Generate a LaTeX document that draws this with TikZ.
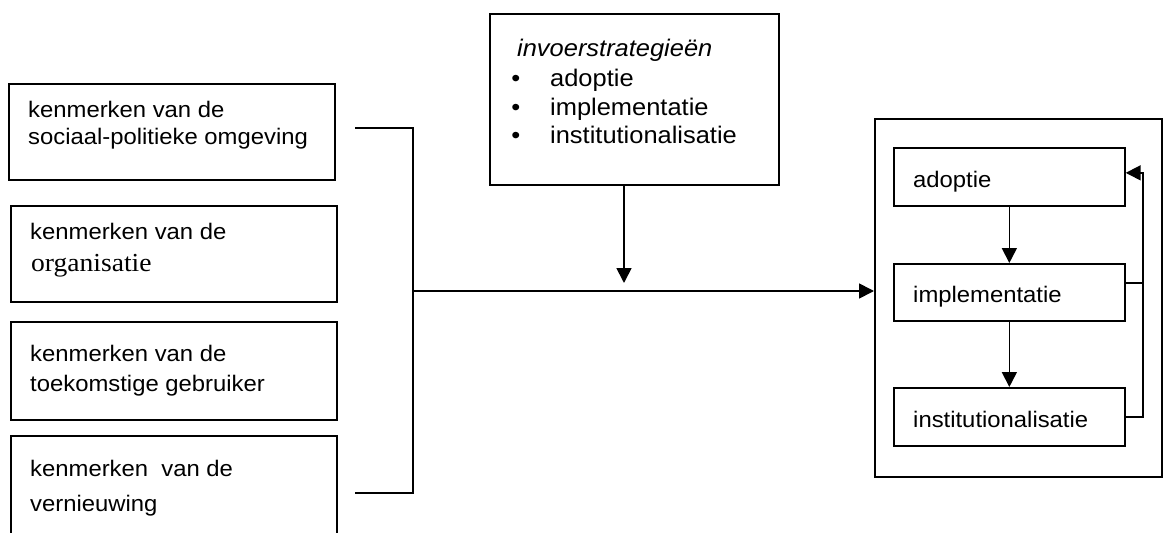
\documentclass[tikz,border=0pt]{standalone}
\usepackage{fontspec}
\setmainfont{Liberation Sans}[FakeStretch=1.06]
\newfontfamily\serifnl{Liberation Serif}[FakeStretch=1.06]
\usetikzlibrary{arrows.meta}
\begin{document}
\begin{tikzpicture}[x=1pt,y=-1pt,
  box/.style={draw, line width=1.7pt, inner sep=0pt, anchor=north west},
  txt/.style={anchor=base west, inner sep=0pt, font=\fontsize{22.5}{26}\selectfont},
  bigtxt/.style={anchor=base west, inner sep=0pt, font=\fontsize{24}{28}\selectfont},
  bul/.style={anchor=base, inner sep=0pt, font=\fontsize{24}{28}\selectfont},
  conn/.style={line width=1.7pt},
  arr/.style={conn, -{Triangle[width=15pt,length=15pt]}}]
\useasboundingbox (0,0) rectangle (1163,533);
\clip (0,0) rectangle (1163,533);
% left boxes
\node[box, minimum width=326pt, minimum height=96pt] (k1) at (8,83) {};
\node[box, minimum width=326pt, minimum height=96pt] (k2) at (10,205) {};
\node[box, minimum width=326pt, minimum height=98pt] (k3) at (10,321) {};
\node[box, minimum width=326pt, minimum height=130pt] (k4) at (10,435) {};
\node[txt] (k1a) at (28,117) {kenmerken van de};
\node[txt] (k1b) at (28,144) {sociaal-politieke omgeving};
\node[txt] (k2a) at (30,239) {kenmerken van de};
\node[txt, font=\serifnl\fontsize{26}{28}\selectfont] (k2b) at (31,271) {organisatie};
\node[txt] (k3a) at (30,361.5) {kenmerken van de};
\node[txt] (k3b) at (30,391) {toekomstige gebruiker};
\node[txt] (k4a) at (30,476) {kenmerken\ \ van de};
\node[txt] (k4b) at (30,511) {vernieuwing};
% bracket
\coordinate (bt) at (355,128);
\coordinate (bb) at (355,493);
\coordinate (bj) at (413,291);
\draw[conn] (bt) -- (bt -| bj) -- (bb -| bj) -- (bb);
% strategy box
\node[box, minimum width=289pt, minimum height=171pt] (strat) at (489,13) {};
\node[bigtxt, font=\itshape\fontsize{24}{28}\selectfont] (s0) at (517,56) {invoerstrategieën};
\node[bul] (b1) at (515.7,86) {•};
\node[bul] (b2) at (515.7,115) {•};
\node[bul] (b3) at (515.7,143) {•};
\node[bigtxt] (s1) at (550,86) {adoptie};
\node[bigtxt] (s2) at (550,115) {implementatie};
\node[bigtxt] (s3) at (550,143) {institutionalisatie};
% right outer box and phases
\node[box, minimum width=287pt, minimum height=358pt] (outer) at (874,118) {};
\node[box, minimum width=231pt, minimum height=58pt] (ado) at (893,147) {};
\node[box, minimum width=231pt, minimum height=57pt] (impl) at (893,263) {};
\node[box, minimum width=231pt, minimum height=58pt] (inst) at (893,387) {};
\node[txt] (t1) at (913,187) {adoptie};
\node[txt] (t2) at (913,302.5) {implementatie};
\node[txt] (t3) at (913,427) {institutionalisatie};
% main connectors
\draw[arr] (bj) -- (bj -| outer.west);
\coordinate (dtip) at (624,283);
\draw[arr] (dtip |- strat.south) -- (dtip);
\draw[arr] (ado) -- (impl);
\draw[arr] (impl) -- (inst);
% feedback
\coordinate (fbx) at (1143,0);
\coordinate (f1) at ([yshift=9.5pt]impl.east);
\coordinate (fa) at ([yshift=4pt]ado.east);
\draw[conn] (f1) -- (f1 -| fbx);
\draw[arr] (inst.east) -- (inst.east -| fbx) -- (fbx |- fa) -- (fa);
\end{tikzpicture}
\end{document}
